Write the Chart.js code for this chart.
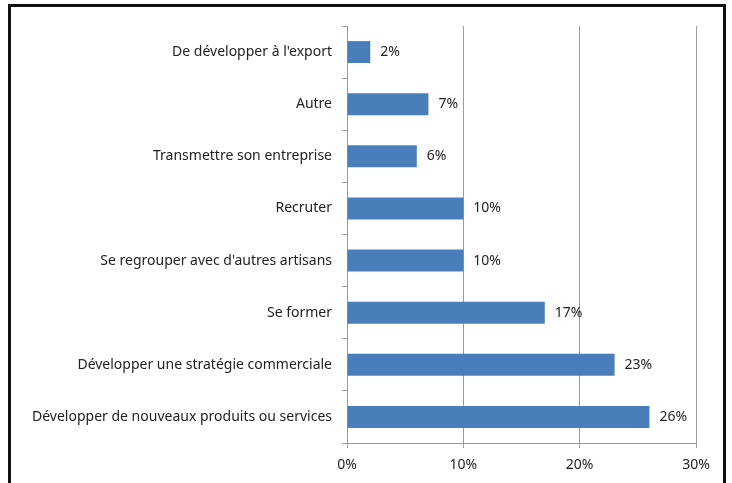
<!DOCTYPE html>
<html lang="fr">
<head>
  <meta charset="UTF-8">
  <title>Projets des artisans</title>
  <script src="https://cdn.jsdelivr.net/npm/chart.js"></script>
  <style>
    body { margin: 0; background: #fff; }
    #wrap { position: relative; width: 732px; height: 483px; }
  </style>
</head>
<body>
  <div id="wrap"><canvas id="chart" width="732" height="483"></canvas></div>

  <script>
    const categories = [
      "De développer à l'export",
      'Autre',
      'Transmettre son entreprise',
      'Recruter',
      "Se regrouper avec d'autres artisans",
      'Se former',
      'Développer une stratégie commerciale',
      'Développer de nouveaux produits ou services'
    ];
    const percents = [2, 7, 6, 10, 10, 17, 23, 26];
    const xTicks = [0, 10, 20, 30];

    const FONT = 'Noto Sans';

    // cadre noir autour du graphique
    const framePlugin = {
      id: 'frame',
      beforeDraw(chart) {
        const c = chart.ctx;
        c.save();
        c.fillStyle = '#fff';
        c.fillRect(0, 0, chart.width, chart.height);
        c.strokeStyle = '#111';
        c.lineWidth = 3;
        c.strokeRect(9.5, 5.5, 715, 490);
        c.restore();
      }
    };

    // étiquettes de valeur à droite des barres
    const valueLabels = {
      id: 'valueLabels',
      afterDatasetsDraw(chart) {
        const c = chart.ctx;
        const meta = chart.getDatasetMeta(0);
        c.save();
        c.font = '14px "' + FONT + '"';
        c.fillStyle = '#222';
        c.textBaseline = 'middle';
        meta.data.forEach((bar, i) => {
          c.fillText(percents[i] + '%', bar.x + 10, bar.y);
        });
        c.restore();
      }
    };

    new Chart(document.getElementById('chart'), {
      type: 'bar',
      data: {
        labels: categories,
        datasets: [{
          data: percents,
          backgroundColor: '#4a7ebb',
          borderWidth: 0,
          barPercentage: 0.42,
          categoryPercentage: 1
        }]
      },
      plugins: [framePlugin, valueLabels],
      options: {
        indexAxis: 'y',
        responsive: false,
        animation: false,
        layout: { padding: { top: 26, right: 36, left: 0, bottom: 0 } },
        plugins: {
          legend: { display: false },
          tooltip: { enabled: false }
        },
        scales: {
          x: {
            min: 0,
            max: 30,
            afterBuildTicks(scale) {
              scale.ticks = xTicks.map(v => ({ value: v }));
            },
            afterFit(scale) { scale.height = 40; },
            grid: { color: '#9a9a9a', tickLength: 5, lineWidth: 1 },
            border: { color: '#9a9a9a' },
            ticks: {
              padding: 9,
              color: '#222',
              font: { family: FONT, size: 14 },
              callback: v => v + '%'
            }
          },
          y: {
            afterFit(scale) { scale.width = 347; },
            grid: { drawOnChartArea: false, color: '#9a9a9a', tickLength: 5, offset: true },
            border: { color: '#9a9a9a' },
            ticks: {
              padding: 10,
              color: '#222',
              font: { family: FONT, size: 14 }
            }
          }
        }
      }
    });
  </script>
</body>
</html>
